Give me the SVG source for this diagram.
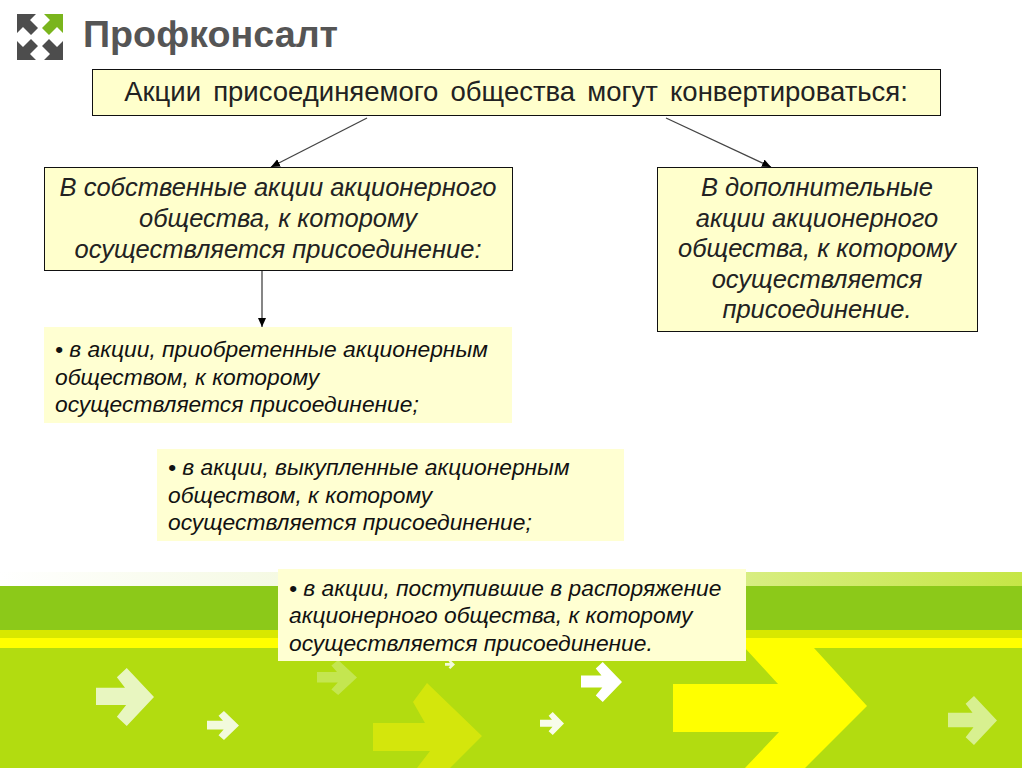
<svg xmlns="http://www.w3.org/2000/svg" width="1024" height="768" viewBox="0 0 1024 768">
<style>
text{font-family:"Liberation Sans",Arial,sans-serif;fill:#111}
.box{fill:#ffffcc;stroke:#111;stroke-width:1}
.plain{fill:#ffffd2}
.t{font-size:25.500px;font-style:italic;text-anchor:middle;fill:#222}
.b{font-size:22.800px;font-style:italic}
.c{stroke:#444;stroke-width:1.3;fill:none;marker-end:url(#ah)}
</style>
<defs>
<marker id="ah" markerUnits="userSpaceOnUse" markerWidth="10" markerHeight="10" refX="9" refY="4" orient="auto"><path d="M0,0L9,4L0,8Z" fill="#000"/></marker>
<linearGradient id="fade" x1="0" x2="1" y1="0" y2="0"><stop offset="0" stop-color="#fff"/><stop offset=".3" stop-color="#f4f9e0"/><stop offset="1" stop-color="#c6e646"/></linearGradient>
<polygon id="arr" points="0,.34 .5,.34 .36,.16 .53,0 1,.5 .53,1 .36,.84 .52,.64 0,.64"/>
<polygon id="q" points="-23,-23 -4,-23 -10,-17 -2,-9 -9,-2 -17,-10 -23,-4"/>
</defs>
<rect width="1024" height="768" fill="#fff"/>
<g id="background">
<rect x="0" y="572" width="1022" height="14" fill="url(#fade)"/>
<rect x="0" y="586" width="1022" height="44" fill="#8cc919"/>
<rect x="0" y="630" width="1022" height="8" fill="#d8e800"/>
<rect x="0" y="638" width="1022" height="10" fill="#ffff00"/>
<rect x="0" y="648" width="1022" height="120" fill="#b2dc10"/>
<polygon fill="#d4e60c" points="373,723 425,723 413,702 427,683 482,736 450,768 417,768 430,751 373,751"/>
<polygon fill="#ffff00" points="673,684 778,684 745,648 814,648 867,706 805,768 745,768 779,732 673,732"/>
<use href="#arr" transform="translate(96,668) scale(58,58)" fill="#e8f6c0"/>
<use href="#arr" transform="translate(207,711) scale(32,29)" fill="#f2fadc"/>
<use href="#arr" transform="translate(317,660) scale(40,35)" fill="#c4e650"/>
<use href="#arr" transform="translate(445,660) scale(10,9)" fill="#f2fadc"/>
<use href="#arr" transform="translate(581,662) scale(41,40)" fill="#fff"/>
<use href="#arr" transform="translate(540,712) scale(24,23)" fill="#f8fcea"/>
<use href="#arr" transform="translate(948,696) scale(49,49)" fill="#d8f090"/>
</g>
<g id="logo">
<use href="#q" transform="translate(40,37)" fill="#4d4d4d"/>
<use href="#q" transform="translate(40,37) scale(-1,1)" fill="#7ab51d"/>
<use href="#q" transform="translate(40,37) scale(1,-1)" fill="#4d4d4d"/>
<use href="#q" transform="translate(40,37) scale(-1,-1)" fill="#4d4d4d"/>
<text x="83" y="47" style="font-size:37.700px;font-weight:bold;fill:#555">Профконсалт</text>
</g>
<g id="connectors">
<line class="c" x1="367" y1="118" x2="271" y2="167"/>
<line class="c" x1="666" y1="118" x2="771" y2="167"/>
<line class="c" x1="262" y1="271" x2="262" y2="327"/>
</g>
<g id="node-title">
<rect class="box" x="92.500" y="69.500" width="848" height="46"/>
<text x="516" y="101" style="font-size:27.500px;text-anchor:middle;word-spacing:4.500px;fill:#222">Акции присоединяемого общества могут конвертироваться:</text>
</g>
<g id="node-left">
<rect class="box" x="44.500" y="167.500" width="468" height="103"/>
<text class="t" x="278" y="196">В собственные акции акционерного</text>
<text class="t" x="278" y="227">общества, к которому</text>
<text class="t" x="278" y="258">осуществляется присоединение:</text>
</g>
<g id="node-right">
<rect class="box" x="657.500" y="167.500" width="320" height="164"/>
<text class="t" x="817" y="196">В дополнительные</text>
<text class="t" x="817" y="227">акции акционерного</text>
<text class="t" x="817" y="257">общества, к которому</text>
<text class="t" x="817" y="288">осуществляется</text>
<text class="t" x="817" y="318">присоединение.</text>
</g>
<g id="node-item1">
<rect class="plain" x="44" y="327" width="468" height="96"/>
<text class="b" x="55" y="357">• в акции, приобретенные акционерным</text>
<text class="b" x="55" y="385">обществом, к которому</text>
<text class="b" x="55" y="412">осуществляется присоединение;</text>
</g>
<g id="node-item2">
<rect class="plain" x="157" y="449" width="467" height="92"/>
<text class="b" x="168" y="475">• в акции, выкупленные акционерным</text>
<text class="b" x="168" y="503">обществом, к которому</text>
<text class="b" x="168" y="530">осуществляется присоединение;</text>
</g>
<g id="node-item3">
<rect class="plain" x="278" y="569" width="468" height="92"/>
<text class="b" x="289" y="596">• в акции, поступившие в распоряжение</text>
<text class="b" x="289" y="623">акционерного общества, к которому</text>
<text class="b" x="289" y="651">осуществляется присоединение.</text>
</g>
</svg>
